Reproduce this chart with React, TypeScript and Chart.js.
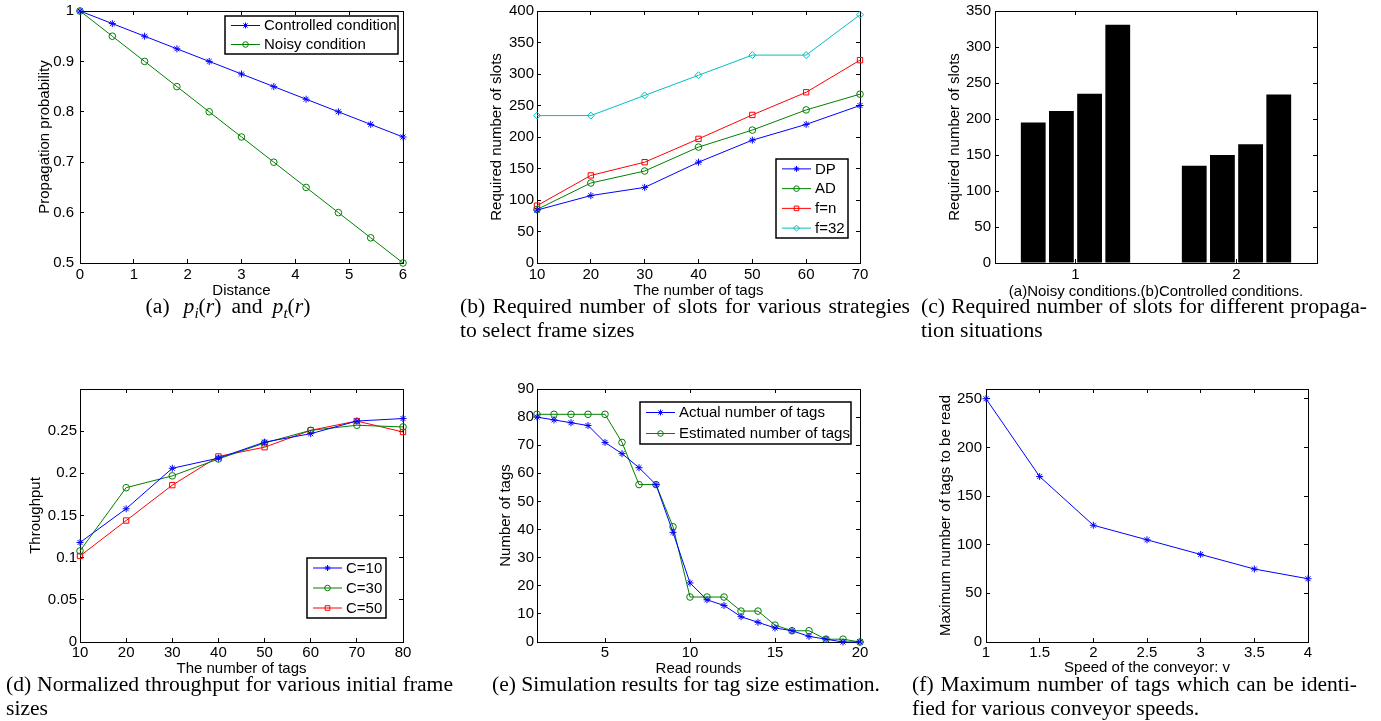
import React, { useEffect, useRef } from 'react';
import { Chart, registerables } from 'chart.js';

Chart.register(...registerables);

// ---------------- (a) Propagation probability ----------------
const aDistance = [0, 0.6, 1.2, 1.8, 2.4, 3, 3.6, 4.2, 4.8, 5.4, 6];
const aControlled = [1, 0.975, 0.95, 0.925, 0.9, 0.875, 0.85, 0.825, 0.8, 0.775, 0.75];
const aNoisy = [1, 0.95, 0.9, 0.85, 0.8, 0.75, 0.7, 0.65, 0.6, 0.55, 0.5];
const aXTicks = [0, 1, 2, 3, 4, 5, 6];
const aYTicks = [0.5, 0.6, 0.7, 0.8, 0.9, 1];

// ---------------- (b) Required slots per strategy ----------------
const bTags = [10, 20, 30, 40, 50, 60, 70];
const bDP = [84, 107, 120, 160, 195, 220, 250];
const bAD = [85, 127, 146, 184, 211, 243, 268];
const bFn = [91, 139, 160, 197, 235, 271, 322];
const bF32 = [234, 234, 266, 298, 330, 330, 394];
const bXTicks = [10, 20, 30, 40, 50, 60, 70];
const bYTicks = [0, 50, 100, 150, 200, 250, 300, 350, 400];

// ---------------- (c) Propagation situations ----------------
const cSituations = ['1', '2'];
const cSeries1 = [195, 135];
const cSeries2 = [211, 150];
const cSeries3 = [235, 165];
const cSeries4 = [331, 234];
const cYTicks = [0, 50, 100, 150, 200, 250, 300, 350];

// ---------------- (d) Normalized throughput ----------------
const dTags = [10, 20, 30, 40, 50, 60, 70, 80];
const dC10 = [0.118, 0.158, 0.206, 0.218, 0.237, 0.247, 0.262, 0.265];
const dC30 = [0.108, 0.183, 0.197, 0.217, 0.236, 0.251, 0.257, 0.255];
const dC50 = [0.102, 0.144, 0.186, 0.22, 0.231, 0.251, 0.262, 0.249];
const dXTicks = [10, 20, 30, 40, 50, 60, 70, 80];
const dYTicks = [0, 0.05, 0.1, 0.15, 0.2, 0.25];

// ---------------- (e) Tag size estimation ----------------
const eRounds = [1, 2, 3, 4, 5, 6, 7, 8, 9, 10, 11, 12, 13, 14, 15, 16, 17, 18, 19, 20];
const eActual = [80, 79, 78, 77, 71, 67, 62, 56, 39, 21, 15, 13, 9, 7, 5, 4, 2, 1, 0, 0];
const eEstimated = [81, 81, 81, 81, 81, 71, 56, 56, 41, 16, 16, 16, 11, 11, 6, 4, 4, 1, 1, 0];
const eXTicks = [5, 10, 15, 20];
const eYTicks = [0, 10, 20, 30, 40, 50, 60, 70, 80, 90];

// ---------------- (f) Conveyor speeds ----------------
const fSpeed = [1, 1.5, 2, 2.5, 3, 3.5, 4];
const fMaxTags = [250, 170, 120, 105, 90, 75, 65];
const fXTicks = [1, 1.5, 2, 2.5, 3, 3.5, 4];
const fYTicks = [0, 50, 100, 150, 200, 250];

// ---------------- styling / layout ----------------
const SANS = '"Liberation Sans", Arial, Helvetica, sans-serif';
const SERIF = '"Liberation Serif", "Times New Roman", Times, serif';
const BLUE = '#0000ff';
const GREEN = '#008000';
const RED = '#ff0000';
const CYAN = '#00bfbf';

const YW = 80;
const PT = 10;
const PR = 16;
const XH = 50;
const TICK = 4;
const FS = 15;
const LH = FS * 1.2;

Chart.defaults.font.family = SANS;
Chart.defaults.font.size = FS;
Chart.defaults.color = '#000';

type Frame = {
  L: number; T: number; R: number; B: number;
  yTitleX: number; xTitleY: number; xLabelY: number; yGap: number;
  legend?: { x: number; y: number; w: number; h: number };
};

const frameA: Frame = { L: 80, T: 11, R: 403, B: 263, yTitleX: 45, xTitleY: 291, xLabelY: 275, yGap: 6, legend: { x: 225, y: 16, w: 173, h: 38 } };
const frameB: Frame = { L: 537, T: 11, R: 860, B: 263, yTitleX: 497, xTitleY: 291, xLabelY: 275, yGap: 3, legend: { x: 776, y: 159, w: 72, h: 79 } };
const frameC: Frame = { L: 995, T: 11, R: 1317, B: 263, yTitleX: 955, xTitleY: 292, xLabelY: 275, yGap: 4 };
const frameD: Frame = { L: 80, T: 389, R: 403, B: 642, yTitleX: 36, xTitleY: 669, xLabelY: 653, yGap: 3, legend: { x: 307, y: 558, w: 79, h: 60 } };
const frameE: Frame = { L: 537, T: 389, R: 860, B: 642, yTitleX: 506, xTitleY: 669, xLabelY: 653, yGap: 3, legend: { x: 640, y: 402, w: 211, h: 42 } };
const frameF: Frame = { L: 986, T: 389, R: 1308, B: 642, yTitleX: 946, xTitleY: 668, xLabelY: 653, yGap: 4 };

function canvasBox(f: Frame) {
  return {
    left: f.L - YW,
    top: f.T - PT,
    width: f.R - f.L + YW + PR,
    height: f.B - f.T + PT + XH,
  };
}

function noPad(s: any) {
  s.paddingLeft = 0;
  s.paddingRight = 0;
  s.paddingTop = 0;
  s.paddingBottom = 0;
}

function tickSetter(values: number[]) {
  return (s: any) => {
    s.ticks = values.map((v) => ({ value: v }));
  };
}

const gridOpts = { drawOnChartArea: false, drawTicks: true, tickLength: -TICK, color: '#000', lineWidth: 1, offset: false };
const borderOpts = { display: true, color: '#000', width: 1 };
const tickFont = { family: SANS, size: FS };

type AxisDef = { type: 'linear' | 'category'; min?: number; max?: number; ticks?: number[]; title: string };

function makeScales(f: Frame, xd: AxisDef, yd: AxisDef) {
  const box = canvasBox(f);
  const xCommon: any = { type: xd.type, offset: xd.type === 'category', grid: gridOpts, border: borderOpts };
  if (xd.type === 'linear') {
    xCommon.min = xd.min;
    xCommon.max = xd.max;
    xCommon.afterBuildTicks = tickSetter(xd.ticks as number[]);
  }
  const x = {
    ...xCommon,
    position: 'bottom',
    afterFit: (s: any) => { s.height = XH; noPad(s); },
    ticks: {
      padding: f.xLabelY - f.B + TICK - LH / 2,
      color: '#000', font: tickFont, maxRotation: 0, minRotation: 0, autoSkip: false,
      ...(xd.type === 'linear' ? { callback: (v: any) => String(v) } : {}),
    },
    title: { display: true, text: xd.title, color: '#000', font: tickFont, padding: { top: 0, bottom: f.B + XH - f.xTitleY - LH / 2 } },
  };
  const x2 = {
    ...xCommon,
    position: 'top',
    afterFit: (s: any) => { s.height = 0; noPad(s); },
    ticks: { display: false },
    title: { display: false },
  };
  const yCommon: any = { type: 'linear', min: yd.min, max: yd.max, afterBuildTicks: tickSetter(yd.ticks as number[]), grid: gridOpts, border: borderOpts };
  const y = {
    ...yCommon,
    position: 'left',
    afterFit: (s: any) => { s.width = YW; noPad(s); },
    ticks: { padding: f.yGap + TICK, color: '#000', font: tickFont, callback: (v: any) => String(v), autoSkip: false },
    title: { display: true, text: yd.title, color: '#000', font: tickFont, padding: { top: f.yTitleX - box.left - LH / 2, bottom: 0 } },
  };
  const y2 = {
    ...yCommon,
    position: 'right',
    afterFit: (s: any) => { s.width = 0; noPad(s); },
    ticks: { display: false },
    title: { display: false },
  };
  return { x, x2, y, y2 };
}

function drawMarker(ctx: CanvasRenderingContext2D, style: string, x: number, y: number, r: number, color: string) {
  ctx.save();
  ctx.strokeStyle = color;
  ctx.lineWidth = 1;
  ctx.beginPath();
  if (style === 'circle') {
    ctx.arc(x, y, r, 0, Math.PI * 2);
  } else if (style === 'rect') {
    const s = Math.SQRT1_2 * r;
    ctx.rect(x - s, y - s, 2 * s, 2 * s);
  } else if (style === 'rectRot') {
    ctx.moveTo(x, y - r);
    ctx.lineTo(x + r, y);
    ctx.lineTo(x, y + r);
    ctx.lineTo(x - r, y);
    ctx.closePath();
  } else {
    const o = Math.SQRT1_2 * r;
    ctx.moveTo(x, y - r); ctx.lineTo(x, y + r);
    ctx.moveTo(x - r, y); ctx.lineTo(x + r, y);
    ctx.moveTo(x - o, y - o); ctx.lineTo(x + o, y + o);
    ctx.moveTo(x - o, y + o); ctx.lineTo(x + o, y - o);
  }
  ctx.stroke();
  ctx.restore();
}

const boxLegend = {
  id: 'boxLegend',
  afterDraw(chart: any, _args: any, opts: any) {
    if (!opts || !opts.box) return;
    const { x, y, w, h } = opts.box;
    const ctx: CanvasRenderingContext2D = chart.ctx;
    const ds = chart.data.datasets;
    ctx.save();
    ctx.fillStyle = '#fff';
    ctx.fillRect(x, y, w, h);
    ctx.strokeStyle = '#000';
    ctx.lineWidth = 1.5;
    ctx.strokeRect(x, y, w, h);
    const rowH = h / ds.length;
    ds.forEach((d: any, i: number) => {
      const cy = y + rowH * (i + 0.5);
      ctx.strokeStyle = d.borderColor;
      ctx.lineWidth = 1;
      ctx.beginPath();
      ctx.moveTo(x + 6, cy);
      ctx.lineTo(x + 35, cy);
      ctx.stroke();
      drawMarker(ctx, d.pointStyle, x + 20.5, cy, d.pointRadius * 0.85, d.borderColor);
      ctx.fillStyle = '#000';
      ctx.font = `${FS}px ${SANS}`;
      ctx.textBaseline = 'middle';
      ctx.textAlign = 'left';
      ctx.fillText(d.label, x + 39, cy + 0.5);
    });
    ctx.restore();
  },
};

function lineSet(label: string, xs: number[], ys: number[], color: string, style: string, radius: number) {
  return {
    label,
    data: xs.map((xv, i) => ({ x: xv, y: ys[i] })),
    borderColor: color,
    backgroundColor: color,
    borderWidth: 1,
    pointStyle: style,
    pointRadius: radius,
    pointBorderColor: color,
    pointBackgroundColor: 'rgba(0,0,0,0)',
    pointBorderWidth: 1,
    tension: 0,
    fill: false,
    clip: false,
    xAxisID: 'x',
    yAxisID: 'y',
  };
}

function baseOptions(f: Frame, scales: any) {
  const box = canvasBox(f);
  return {
    responsive: false,
    animation: false,
    events: [],
    layout: { padding: { left: 0, top: PT, right: PR, bottom: 0 } },
    scales,
    plugins: {
      legend: { display: false },
      tooltip: { enabled: false },
      boxLegend: f.legend ? { box: { x: f.legend.x - box.left, y: f.legend.y - box.top, w: f.legend.w, h: f.legend.h } } : {},
    },
  };
}

function lineConfig(f: Frame, datasets: any[], xd: AxisDef, yd: AxisDef): any {
  return {
    type: 'line',
    data: { datasets },
    options: baseOptions(f, makeScales(f, xd, yd)),
    plugins: [boxLegend],
  };
}

const configA = () => lineConfig(frameA, [
  lineSet('Controlled condition', aDistance, aControlled, BLUE, 'star', 3.5),
  lineSet('Noisy condition', aDistance, aNoisy, GREEN, 'circle', 3.3),
], { type: 'linear', min: 0, max: 6, ticks: aXTicks, title: 'Distance' },
   { type: 'linear', min: 0.5, max: 1, ticks: aYTicks, title: 'Propagation probability' });

const configB = () => lineConfig(frameB, [
  lineSet('DP', bTags, bDP, BLUE, 'star', 3.5),
  lineSet('AD', bTags, bAD, GREEN, 'circle', 3.3),
  lineSet('f=n', bTags, bFn, RED, 'rect', 3.8),
  lineSet('f=32', bTags, bF32, CYAN, 'rectRot', 3.5),
], { type: 'linear', min: 10, max: 70, ticks: bXTicks, title: 'The number of tags' },
   { type: 'linear', min: 0, max: 400, ticks: bYTicks, title: 'Required number of slots' });

const configC = (): any => {
  const mk = (vals: number[]) => ({
    data: vals, backgroundColor: '#000', borderWidth: 0, categoryPercentage: 0.7, barPercentage: 0.88, xAxisID: 'x', yAxisID: 'y',
  });
  return {
    type: 'bar',
    data: { labels: cSituations, datasets: [mk(cSeries1), mk(cSeries2), mk(cSeries3), mk(cSeries4)] },
    options: baseOptions(frameC, makeScales(frameC,
      { type: 'category', title: '(a)Noisy conditions.(b)Controlled conditions.' },
      { type: 'linear', min: 0, max: 350, ticks: cYTicks, title: 'Required number of slots' })),
    plugins: [boxLegend],
  };
};

const configD = () => lineConfig(frameD, [
  lineSet('C=10', dTags, dC10, BLUE, 'star', 3.5),
  lineSet('C=30', dTags, dC30, GREEN, 'circle', 3.3),
  lineSet('C=50', dTags, dC50, RED, 'rect', 3.8),
], { type: 'linear', min: 10, max: 80, ticks: dXTicks, title: 'The number of tags' },
   { type: 'linear', min: 0, max: 0.3, ticks: dYTicks, title: 'Throughput' });

const configE = () => lineConfig(frameE, [
  lineSet('Actual number of tags', eRounds, eActual, BLUE, 'star', 3.5),
  lineSet('Estimated number of tags', eRounds, eEstimated, GREEN, 'circle', 3.3),
], { type: 'linear', min: 1, max: 20, ticks: eXTicks, title: 'Read rounds' },
   { type: 'linear', min: 0, max: 90, ticks: eYTicks, title: 'Number of tags' });

const configF = () => lineConfig(frameF, [
  lineSet('Maximum number of tags', fSpeed, fMaxTags, BLUE, 'star', 3.5),
], { type: 'linear', min: 1, max: 4, ticks: fXTicks, title: 'Speed of the conveyor: v' },
   { type: 'linear', min: 0, max: 260, ticks: fYTicks, title: 'Maximum number of tags to be read' });

function ChartBox({ frame, make }: { frame: Frame; make: () => any }) {
  const ref = useRef<HTMLCanvasElement>(null);
  useEffect(() => {
    const chart = new Chart(ref.current as HTMLCanvasElement, make());
    return () => chart.destroy();
  }, []);
  const b = canvasBox(frame);
  return (
    <div style={{ position: 'absolute', left: b.left, top: b.top, width: b.width, height: b.height }}>
      <canvas ref={ref} width={b.width} height={b.height} style={{ display: 'block', width: b.width, height: b.height }} />
    </div>
  );
}

const capBase: React.CSSProperties = {
  position: 'absolute',
  fontFamily: SERIF,
  fontSize: 21.6,
  lineHeight: '24px',
  color: '#000',
  whiteSpace: 'nowrap',
};

function Cap({ left, top, width, align, children }: { left: number; top: number; width: number; align: 'justify' | 'left' | 'center'; children: React.ReactNode }) {
  const style: React.CSSProperties = { ...capBase, left, top, width, textAlign: align };
  if (align === 'justify') (style as any).textAlignLast = 'justify';
  return <div style={style}>{children}</div>;
}

const subStyle: React.CSSProperties = { fontSize: '0.7em', verticalAlign: '-0.3em', lineHeight: 0, fontStyle: 'italic' };
const mathStyle: React.CSSProperties = { fontStyle: 'italic' };

export default function App() {
  return (
    <div style={{ position: 'absolute', left: 0, top: 0, width: 1381, height: 721, background: '#fff', overflow: 'hidden' }}>
      <ChartBox frame={frameA} make={configA} />
      <ChartBox frame={frameB} make={configB} />
      <ChartBox frame={frameC} make={configC} />
      <ChartBox frame={frameD} make={configD} />
      <ChartBox frame={frameE} make={configE} />
      <ChartBox frame={frameF} make={configF} />

      <Cap left={6} top={294} width={444} align="center">
        (a)<span style={{ marginLeft: 14 }} /><span style={mathStyle}>p</span><span style={subStyle}>i</span>(<span style={mathStyle}>r</span>)
        <span style={{ marginLeft: 10 }} />and<span style={{ marginLeft: 10 }} /><span style={mathStyle}>p</span><span style={subStyle}>t</span>(<span style={mathStyle}>r</span>)
      </Cap>
      <Cap left={460} top={294} width={450} align="justify">(b) Required number of slots for various strategies</Cap>
      <Cap left={460} top={318} width={450} align="left">to select frame sizes</Cap>
      <Cap left={921} top={294} width={446} align="justify">(c) Required number of slots for different propaga-</Cap>
      <Cap left={921} top={318} width={446} align="left">tion situations</Cap>

      <Cap left={6} top={672} width={447} align="justify">(d) Normalized throughput for various initial frame</Cap>
      <Cap left={6} top={696} width={447} align="left">sizes</Cap>
      <Cap left={460} top={672} width={452} align="center">(e) Simulation results for tag size estimation.</Cap>
      <Cap left={912} top={672} width={445} align="justify">(f) Maximum number of tags which can be identi-</Cap>
      <Cap left={912} top={696} width={445} align="left">fied for various conveyor speeds.</Cap>
    </div>
  );
}
